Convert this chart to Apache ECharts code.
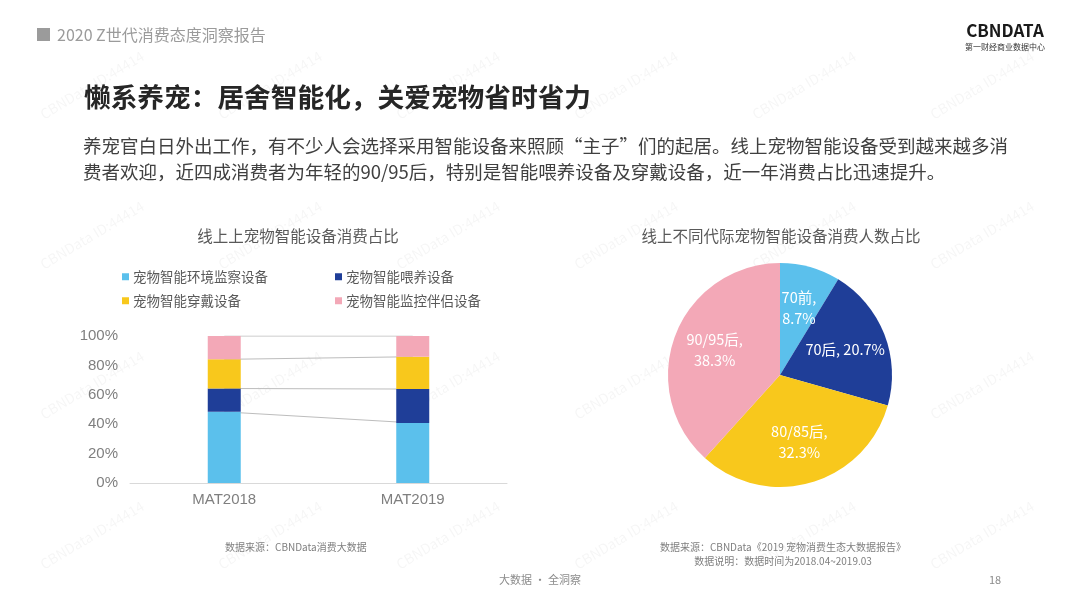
<!DOCTYPE html>
<html>
<head>
<meta charset="utf-8">
<script src="https://cdn.jsdelivr.net/npm/echarts@6/dist/echarts.min.js"></script>
<style>
  html, body { margin: 0; padding: 0; background: #fff; }
  #main { width: 1080px; height: 608px; }
</style>
</head>
<body>
<div id="main"></div>
<script>
// 柱状图：线上宠物智能设备消费占比
var barCategories = ['MAT2018', 'MAT2019'];
var barSeriesNames = ['宠物智能环境监察设备', '宠物智能喂养设备', '宠物智能穿戴设备', '宠物智能监控伴侣设备'];
var envMonitor = [48.4, 40.9];
var feeding = [15.9, 23.0];
var wearable = [19.8, 22.0];
var companion = [15.9, 14.1];
var yTicks = [0, 20, 40, 60, 80, 100];

// 饼图：不同代际消费人数占比
var pieNames = ['70前', '70后', '80/85后', '90/95后'];
var pieValues = [8.7, 20.7, 32.3, 38.3];

var colors = ['#5BC0EC', '#1F3E98', '#F8C81C', '#F3A8B7'];
var font = '"Noto Sans CJK SC", "Noto Sans", sans-serif';

var barData = [envMonitor, feeding, wearable, companion];
var series = [];
for (var i = 0; i < barData.length; i++) {
    series.push({
        name: barSeriesNames[i],
        type: 'bar',
        stack: 'share',
        barWidth: 33,
        z: 3,
        itemStyle: { color: colors[i] },
        data: barData[i]
    });
}
// 连接线（画在柱子下面）
for (var j = 0; j < barData.length; j++) {
    series.push({
        type: 'line',
        stack: 'link',
        z: 1,
        silent: true,
        symbol: 'none',
        lineStyle: { color: '#bdbdbd', width: 1 },
        data: barData[j]
    });
}

var pieData = [];
for (var k = 0; k < pieNames.length; k++) {
    pieData.push({ name: pieNames[k], value: pieValues[k], itemStyle: { color: colors[k] } });
}
series.push({
    type: 'pie',
    center: [780, 375],
    radius: [0, 112],
    startAngle: 90,
    clockwise: true,
    label: { show: false },
    labelLine: { show: false },
    itemStyle: { borderWidth: 0 },
    emphasis: { disabled: true },
    data: pieData
});
// 只用来放标签
series.push({
    type: 'pie',
    center: [780, 375],
    radius: [0, 134],
    startAngle: 90,
    clockwise: true,
    silent: true,
    z: 5,
    itemStyle: { color: 'rgba(0,0,0,0)' },
    labelLine: { show: false },
    label: {
        show: true,
        position: 'inside',
        color: '#fff',
        fontSize: 14.5,
        fontFamily: font,
        lineHeight: 21,
        formatter: function (p) {
            return p.name + ',' + (p.name === '70后' ? ' ' : '\n') + p.value + '%';
        }
    },
    data: pieData.map(function (d) { return { name: d.name, value: d.value }; })
});

var legendPos = [[122, 270], [335, 270], [122, 294], [335, 294]];
var legends = barSeriesNames.map(function (n, i) {
    return {
        data: [n],
        left: legendPos[i][0],
        top: legendPos[i][1],
        padding: 0,
        icon: 'rect',
        itemWidth: 7,
        itemHeight: 7,
        itemGap: 0,
        selectedMode: false,
        textStyle: { fontSize: 13.5, color: '#595959', fontFamily: font, padding: [0, 0, 0, -1] }
    };
});

// 水印
var wmX = [92, 270, 448, 626, 804, 982];
var wmY = [85, 235, 385, 535];
var graphics = [];
wmX.forEach(function (x) {
    wmY.forEach(function (y) {
        graphics.push({
            type: 'text', x: x, y: y, rotation: 0.54, silent: true, z: 0,
            style: { text: 'CBNData ID:44414', fill: 'rgba(0,0,0,0.04)', font: '14px ' + font, align: 'center', verticalAlign: 'middle' }
        });
    });
});

graphics = graphics.concat([
    { type: 'rect', shape: { x: 37, y: 28, width: 13, height: 13 }, style: { fill: '#9b9b9b' } },
    { type: 'text', x: 57, y: 35, style: { text: '2020 Z世代消费态度洞察报告', fill: '#9b9b9b', font: '16px ' + font, verticalAlign: 'middle' } },
    { type: 'text', x: 1005, y: 31, style: { text: 'CBNDATA', fill: '#1a1a1a', font: 'bold 17px ' + font, align: 'center', verticalAlign: 'middle' } },
    { type: 'text', x: 1005, y: 47, style: { text: '第一财经商业数据中心', fill: '#333', font: '8px ' + font, align: 'center', verticalAlign: 'middle' } },
    { type: 'text', x: 84, y: 97, style: { text: '懒系养宠：居舍智能化，关爱宠物省时省力', fill: '#262626', font: 'bold 26.7px ' + font, verticalAlign: 'middle' } },
    { type: 'text', x: 83, y: 146, style: { text: '养宠官白日外出工作，有不少人会选择采用智能设备来照顾“主子”们的起居。线上宠物智能设备受到越来越多消', fill: '#404040', font: '18.5px ' + font, verticalAlign: 'middle' } },
    { type: 'text', x: 83, y: 172, style: { text: '费者欢迎，近四成消费者为年轻的90/95后，特别是智能喂养设备及穿戴设备，近一年消费占比迅速提升。', fill: '#404040', font: '18.5px ' + font, verticalAlign: 'middle' } },
    { type: 'text', x: 298, y: 236, style: { text: '线上上宠物智能设备消费占比', fill: '#595959', font: '15.5px ' + font, align: 'center', verticalAlign: 'middle' } },
    { type: 'text', x: 781, y: 236, style: { text: '线上不同代际宠物智能设备消费人数占比', fill: '#595959', font: '15.5px ' + font, align: 'center', verticalAlign: 'middle' } },
    { type: 'text', x: 225, y: 547, style: { text: '数据来源：CBNData消费大数据', fill: '#7f7f7f', font: '10px ' + font, verticalAlign: 'middle' } },
    { type: 'text', x: 783, y: 547, style: { text: '数据来源：CBNData《2019 宠物消费生态大数据报告》', fill: '#7f7f7f', font: '10px ' + font, align: 'center', verticalAlign: 'middle' } },
    { type: 'text', x: 783, y: 561, style: { text: '数据说明：数据时间为2018.04~2019.03', fill: '#7f7f7f', font: '10px ' + font, align: 'center', verticalAlign: 'middle' } },
    { type: 'text', x: 540, y: 580, style: { text: '大数据 · 全洞察', fill: '#8c8c8c', font: '11px ' + font, align: 'center', verticalAlign: 'middle' } },
    { type: 'text', x: 995, y: 580, style: { text: '18', fill: '#8c8c8c', font: '11px ' + font, align: 'center', verticalAlign: 'middle' } }
]);

var myChart = echarts.init(document.getElementById('main'));
var option = {
    backgroundColor: '#fff',
    animation: false,
    textStyle: { fontFamily: font },
    legend: legends,
    grid: { left: 130, right: 573, top: 336, bottom: 125, containLabel: false },
    xAxis: {
        type: 'category',
        data: barCategories,
        axisLine: { lineStyle: { color: '#d9d9d9' } },
        axisTick: { show: false },
        axisLabel: { color: '#7f7f7f', fontSize: 15, margin: 9, fontFamily: 'Liberation Sans, Arial, sans-serif' }
    },
    yAxis: {
        type: 'value',
        min: yTicks[0],
        max: yTicks[yTicks.length - 1],
        interval: yTicks[1] - yTicks[0],
        splitLine: { show: false },
        axisLine: { show: false },
        axisTick: { show: false },
        axisLabel: { color: '#7f7f7f', fontSize: 15, margin: 12, formatter: '{value}%', fontFamily: 'Liberation Sans, Arial, sans-serif' }
    },
    graphic: graphics,
    series: series
};
myChart.setOption(option);
</script>
</body>
</html>
